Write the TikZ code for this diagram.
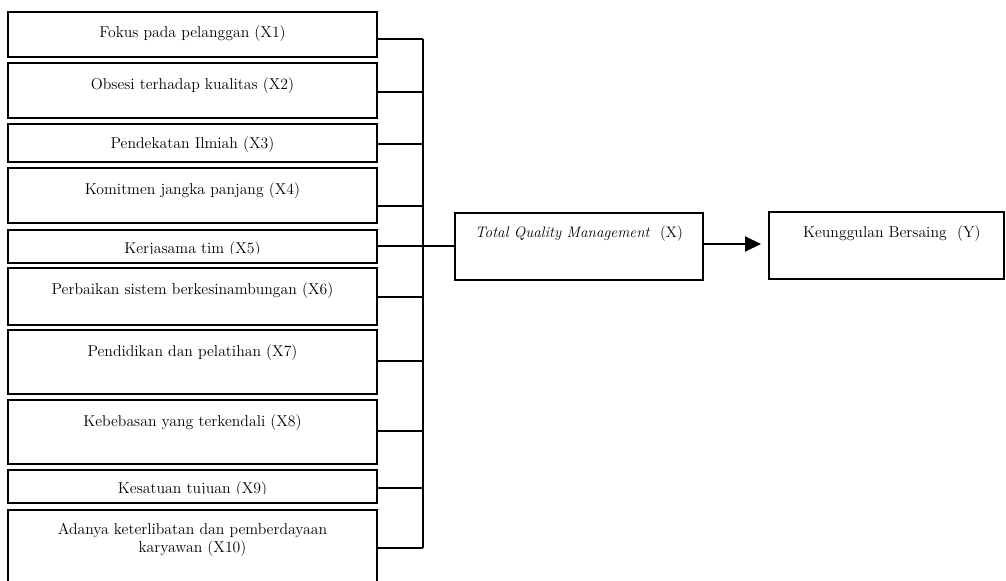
\documentclass[tikz,border=0pt]{standalone}
\usetikzlibrary{arrows.meta,calc}
\tikzset{
  box/.style={draw, rectangle, line width=1.5pt, inner sep=0pt},
  lbl/.style={font=\fontsize{11.8}{13.5}\selectfont, inner sep=0pt, align=center, anchor=base},
  conn/.style={line width=1.5pt},
}
\newcommand\mybox[5]{%
  \node[box, minimum width={(#4-#2)*0.75pt}, minimum height={(#5-#3)*0.75pt}]
    (#1) at ({(#2+#4)/2},{(#3+#5)/2}) {};}
\begin{document}
\begin{tikzpicture}[x=0.75pt,y=-0.75pt]
\useasboundingbox (0,0) rectangle (1006,581);
\clip (0,0) rectangle (1006,581);
% boxes
\mybox{x1}{8}{12}{377}{57}
\mybox{x2}{8}{63}{377}{118}
\mybox{x3}{8}{124}{377}{162}
\mybox{x4}{8}{168}{377}{223}
\mybox{x5}{8}{230}{377}{263}
\mybox{x6}{8}{268}{377}{325}
\mybox{x7}{8}{330}{377}{394}
\mybox{x8}{8}{400}{377}{464}
\mybox{x9}{8}{470}{377}{503}
\mybox{x10}{8}{510}{377}{595}
\mybox{tqm}{455}{213}{703}{280}
\mybox{y}{769}{212}{1004}{279}
% texts
\node[lbl] (x1t) at ([yshift=-19.9pt]x1.north) {Fokus pada pelanggan (X1)};
\node[lbl] (x2t) at ([yshift=-20.6pt]x2.north) {Obsesi terhadap kualitas (X2)};
\node[lbl] (x3t) at ([yshift=-19.1pt]x3.north) {Pendekatan Ilmiah (X3)};
\node[lbl] (x4t) at ([yshift=-20.6pt]x4.north) {Komitmen jangka panjang (X4)};
\begin{scope}
  \clip (x5.north west) rectangle ([yshift=-18pt]x5.north east);
  \node[lbl] (x5t) at ([yshift=-18pt]x5.north) {Kerjasama tim (X5)};
\end{scope}
\node[lbl] (x6t) at ([yshift=-20.6pt]x6.north) {Perbaikan sistem berkesinambungan (X6)};
\node[lbl] (x7t) at ([yshift=-20.6pt]x7.north) {Pendidikan dan pelatihan (X7)};
\node[lbl] (x8t) at ([yshift=-20.6pt]x8.north) {Kebebasan yang terkendali (X8)};
\begin{scope}
  \clip (x9.north west) rectangle ([yshift=-18pt]x9.north east);
  \node[lbl] (x9t) at ([yshift=-18pt]x9.north) {Kesatuan tujuan (X9)};
\end{scope}
\node[lbl, anchor=center] (x10t) at ([yshift=-23.25pt]x10.north) {Adanya keterlibatan dan pemberdayaan\\karyawan (X10)};
\node[lbl, font=\fontsize{11.4}{13.5}\selectfont] (tqmt) at ([yshift=-19.1pt]tqm.north) {\textit{Total Quality Management}\ \ (X)};
\node[lbl] (yt) at ([yshift=-19.9pt,xshift=4pt]y.north) {Keunggulan Bersaing\ \ (Y)};
% bus
\coordinate (bt) at (423,39);
\coordinate (bb) at (423,548);
\draw[conn] (bt) -- (bb);
\draw[conn] (x1.east |- bt) -- (bt);
\draw[conn] (x2.east |- 0,92) -- (bt |- 0,92);
\draw[conn] (x3.east |- 0,144) -- (bt |- 0,144);
\draw[conn] (x4.east |- 0,206) -- (bt |- 0,206);
\draw[conn] (x5.east |- 0,246) -- (tqm.west |- 0,246);
\draw[conn] (x6.east |- 0,297) -- (bt |- 0,297);
\draw[conn] (x7.east |- 0,361) -- (bt |- 0,361);
\draw[conn] (x8.east |- 0,431) -- (bt |- 0,431);
\draw[conn] (x9.east |- 0,488) -- (bt |- 0,488);
\draw[conn] (x10.east |- bb) -- (bb);
% arrow
\draw[conn, -{Triangle[length=12pt,width=11.25pt]}, shorten >=5.25pt] (tqm.east |- 0,244) -- (y.west |- 0,244);
\end{tikzpicture}
\end{document}
